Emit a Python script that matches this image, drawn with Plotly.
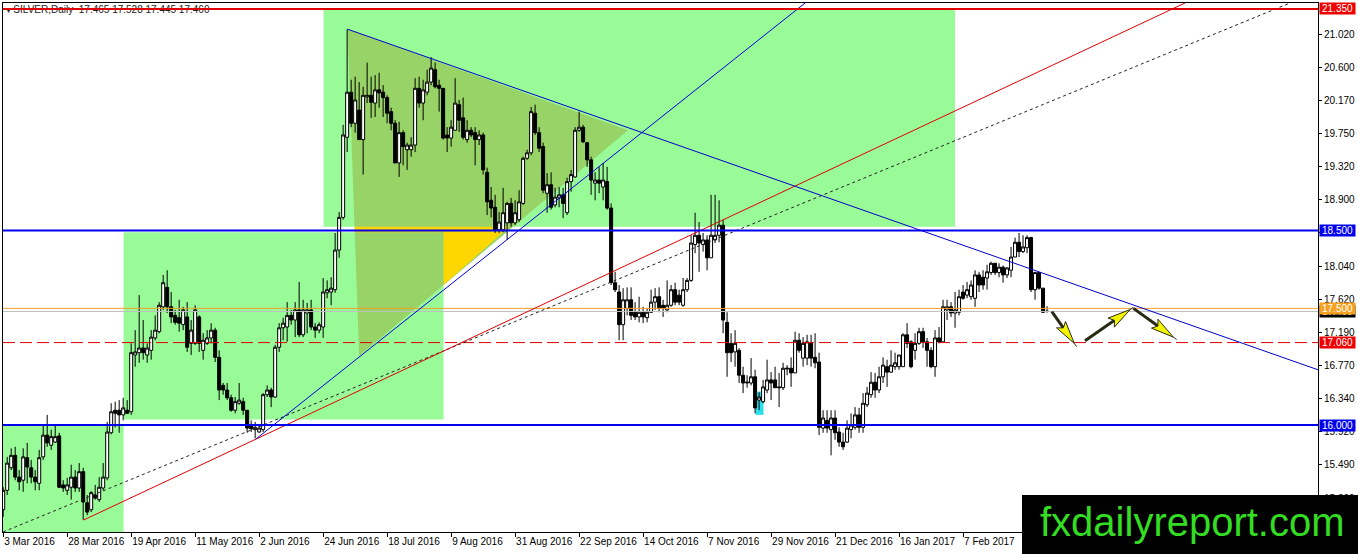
import math
import plotly.graph_objects as go

# ---------------- data ----------------
opens = [14.91,15.16,15.45,15.61,15.33,15.29,15.58,15.45,15.33,15.25,
         15.59,15.87,15.74,15.78,15.86,15.23,15.16,15.20,15.33,15.19,
         15.40,15.00,14.91,15.10,15.04,15.19,15.32,15.90,16.19,16.19,
         16.13,16.19,16.17,16.90,16.93,16.99,16.90,16.96,17.12,17.20,
         17.52,17.77,17.52,17.41,17.38,17.29,17.39,17.05,17.05,17.39,
         16.96,17.05,17.12,17.22,16.87,16.51,16.45,16.35,16.19,16.28,
         16.30,16.19,16.00,15.94,15.91,15.94,16.39,16.45,16.36,17.00,
         17.25,17.26,17.41,17.35,17.48,17.16,17.44,17.48,17.26,17.22,
         17.26,17.70,17.71,17.74,18.25,
         18.67,19.70,20.28,19.88,20.05,
         19.67,20.22,20.24,20.14,20.31,20.28,20.21,20.03,19.88,19.37,
         19.76,19.54,19.54,19.60,20.33,20.14,20.28,20.41,20.57,20.37,
         20.33,19.73,19.69,19.79,20.12,19.95,19.67,19.79,19.76,19.67,
         19.73,19.25,18.89,18.80,18.51,18.51,18.60,18.85,18.60,18.64,
         18.85,19.43,19.50,20.01,19.76,19.58,18.98,19.09,18.83,18.92,
         18.96,18.73,19.13,19.19,19.79,19.83,19.63,19.41,19.11,19.15,
         19.06,19.13,18.79,
         17.83,17.71,17.29,17.50,17.61,17.45,17.39,
         17.45,17.38,17.45,17.58,17.65,17.54,17.48,17.54,17.74,17.67,
         17.54,17.74,17.86,18.32,18.44,18.32,18.38,18.15,18.38,18.44,
         18.57,17.32,17.05,16.94,16.96,16.64,16.54,16.54,16.62,16.32,
         16.30,16.45,16.58,16.58,16.49,16.48,16.72,16.73,16.67,17.09,
         16.86,16.86,17.05,16.87,16.81,15.96,16.06,15.94,16.09,15.91,
         15.78,15.78,15.94,15.97,16.13,15.97,16.26,
         16.39,16.55,16.45,
         16.62,16.75,16.68,16.75,16.75,16.75,17.16,17.07,16.96,17.05,
         17.20,17.07,16.96,16.75,17.12,17.07,17.48,17.52,17.44,17.45,
         17.71,17.67,17.65,17.63,17.93,17.90,17.89,17.96,18.08,17.96,
         18.03,17.93,17.99,18.16,18.35,18.23,18.28,18.41,17.74,17.96,
         17.76,17.465]

highs = [15.20,15.59,15.70,15.72,15.42,15.70,15.77,15.55,15.42,15.68,
         16.00,16.13,15.94,16.00,15.90,15.29,15.32,15.49,15.42,15.51,
         15.45,15.10,15.15,15.23,15.33,15.51,16.04,16.28,16.30,16.32,
         16.35,16.32,17.05,17.22,17.67,17.35,17.05,17.22,17.41,17.58,
         17.93,17.99,17.71,17.48,17.61,17.52,17.58,17.35,17.54,17.41,
         17.18,17.22,17.31,17.25,16.96,16.54,16.54,16.39,16.36,16.54,
         16.35,16.19,16.06,16.04,16.00,16.41,16.51,16.48,17.03,17.31,
         17.38,17.58,17.48,17.58,17.84,17.61,17.57,17.61,17.31,17.32,
         17.89,17.86,17.90,18.47,18.74,
         19.86,21.09,20.44,20.48,20.41,
         20.35,20.66,20.48,20.50,20.53,20.37,20.24,20.08,19.92,19.90,
         19.79,19.63,19.70,20.46,20.48,20.44,20.57,20.73,20.66,20.44,
         20.33,19.83,19.92,20.46,20.18,20.21,19.92,19.83,19.83,19.79,
         19.76,19.31,19.06,18.96,18.74,19.05,18.87,18.92,18.89,19.02,
         19.45,19.54,20.09,20.12,19.83,19.63,19.24,19.25,19.05,19.06,
         19.05,19.18,19.28,19.83,20.03,19.86,19.64,19.45,19.25,19.32,
         19.37,19.32,18.85,
         17.97,17.80,17.76,17.77,17.77,17.58,17.65,
         17.52,17.50,17.74,17.76,17.77,17.61,17.86,17.80,17.83,17.74,
         17.89,17.89,18.44,18.73,18.61,18.47,18.44,18.96,18.96,18.89,
         18.64,17.45,17.18,17.22,16.99,16.75,16.64,16.86,16.71,16.42,
         16.58,16.84,16.68,16.75,16.67,16.80,16.77,16.87,17.20,17.18,
         17.13,17.16,17.16,17.18,16.93,16.19,16.19,16.19,16.19,15.97,
         15.90,16.06,16.15,16.23,16.22,16.41,16.49,
         16.68,16.67,16.75,
         16.87,16.84,16.96,16.93,16.90,17.18,17.31,17.09,17.18,17.25,
         17.25,17.12,17.00,17.22,17.26,17.61,17.61,17.58,17.71,17.74,
         17.80,17.84,17.86,17.99,17.97,17.99,18.06,18.10,18.08,18.08,
         18.05,18.03,18.29,18.41,18.47,18.44,18.44,18.42,17.97,17.97,
         17.76,17.528]

lows = [14.82,15.10,15.42,15.29,15.16,15.14,15.25,15.25,15.16,15.16,
        15.55,15.72,15.68,15.77,15.19,15.14,15.10,15.04,15.14,15.14,
        14.78,14.84,14.88,15.04,15.01,15.16,15.29,15.88,15.97,15.90,
        16.06,16.17,16.13,16.75,16.80,16.84,16.80,16.84,17.09,17.18,
        17.48,17.44,17.31,17.29,17.20,17.22,16.94,16.90,17.03,16.94,
        16.84,17.03,17.05,16.81,16.32,16.39,16.32,16.17,16.15,16.26,
        16.13,15.90,15.91,15.83,15.90,15.91,16.36,16.23,16.35,16.94,
        17.09,17.07,17.29,17.13,17.13,17.13,17.18,17.22,17.12,17.18,
        17.12,17.63,17.54,17.70,18.15,
        18.64,19.51,19.83,19.76,19.67,
        19.22,20.14,19.95,19.96,20.08,19.96,19.88,19.79,19.37,19.19,
        19.34,19.28,19.45,19.51,20.08,19.92,20.24,20.37,20.33,20.03,
        19.67,19.51,19.58,19.79,19.77,19.67,19.63,19.70,19.34,19.60,
        19.22,18.70,18.67,18.47,18.47,18.48,18.38,18.55,18.57,18.61,
        18.83,19.41,19.47,19.73,19.51,18.98,18.73,18.77,18.80,18.80,
        18.66,18.70,19.00,19.18,19.77,19.63,19.32,18.96,18.89,18.98,
        18.89,18.77,17.80,
        17.71,17.09,17.09,17.41,17.35,17.35,17.32,
        17.31,17.32,17.44,17.48,17.45,17.39,17.45,17.52,17.54,17.54,
        17.52,17.71,17.84,18.21,17.97,18.23,17.99,18.15,18.34,18.35,
        17.18,16.62,16.81,16.75,16.54,16.41,16.48,16.51,16.15,16.19,
        16.28,16.41,16.32,16.48,16.23,16.45,16.64,16.49,16.67,16.93,
        16.75,16.77,16.75,16.73,15.87,15.90,15.90,15.61,15.81,15.72,
        15.68,15.77,15.83,15.94,15.90,15.90,16.23,
        16.35,16.35,16.41,
        16.54,16.49,16.67,16.71,16.71,16.75,16.99,16.73,16.84,17.03,
        16.99,16.75,16.73,16.62,17.05,17.07,17.35,17.39,17.25,17.41,
        17.61,17.63,17.61,17.52,17.71,17.74,17.74,17.93,17.93,17.90,
        17.83,17.89,17.90,18.16,18.16,18.21,18.21,17.71,17.61,17.74,
        17.44,17.445]

closes = [15.16,15.51,15.61,15.33,15.27,15.59,15.46,15.33,15.27,15.58,
          15.87,15.77,15.85,15.85,15.20,15.19,15.23,15.33,15.19,15.40,
          15.01,14.88,15.13,15.06,15.20,15.33,15.91,16.17,16.15,16.13,
          16.22,16.15,16.93,16.94,16.99,16.93,16.99,17.13,17.22,17.54,
          17.83,17.52,17.39,17.32,17.31,17.48,17.00,17.22,17.48,17.05,
          17.09,17.12,17.22,16.87,16.45,16.45,16.35,16.19,16.30,16.32,
          16.19,15.96,15.95,15.97,15.96,16.39,16.45,16.36,17.00,17.25,
          17.31,17.41,17.35,17.48,17.16,17.48,17.48,17.26,17.22,17.29,
          17.71,17.74,17.76,18.25,18.67,
          19.73,20.28,19.88,20.18,19.67,
          20.24,20.24,20.15,20.31,20.27,20.21,20.01,19.88,19.37,19.76,
          19.58,19.60,19.60,20.33,20.14,20.31,20.41,20.59,20.35,20.33,
          19.69,19.69,19.83,20.14,19.92,19.70,19.79,19.73,19.67,19.73,
          19.28,18.87,18.79,18.51,18.61,18.73,18.85,18.60,18.73,18.87,
          19.43,19.50,20.03,19.76,19.56,19.02,19.09,18.80,18.93,18.96,
          18.85,19.13,19.22,19.79,19.83,19.64,19.41,19.15,19.15,19.11,
          19.15,18.79,17.83,
          17.74,17.29,17.61,17.61,17.41,17.39,17.45,
          17.39,17.45,17.58,17.65,17.50,17.50,17.54,17.74,17.58,17.58,
          17.74,17.86,18.34,18.44,18.34,18.38,18.15,18.44,18.44,18.57,
          17.35,16.93,16.93,17.05,16.64,16.54,16.55,16.62,16.22,16.36,
          16.49,16.58,16.54,16.48,16.48,16.73,16.73,16.67,17.09,16.96,
          17.05,17.07,16.86,16.80,15.97,16.09,15.96,16.09,15.90,15.78,
          15.72,15.96,16.00,16.13,15.97,16.28,16.41,
          16.55,16.45,16.62,
          16.77,16.68,16.77,16.80,16.90,17.16,17.05,16.75,17.05,17.20,
          17.07,16.96,16.75,17.12,17.07,17.52,17.52,17.44,17.48,17.65,
          17.63,17.74,17.80,17.93,17.80,17.80,17.97,18.08,17.96,18.03,
          17.93,18.02,18.16,18.35,18.23,18.29,18.41,17.74,17.96,17.76,
          17.45,17.46]

date_tick_bars = [0, 16, 32, 48, 64, 80, 96, 112, 128, 144, 160, 176, 192, 208, 224, 240]
date_tick_labels = ["3 Mar 2016", "28 Mar 2016", "19 Apr 2016", "11 May 2016", "2 Jun 2016",
                    "24 Jun 2016", "18 Jul 2016", "9 Aug 2016", "31 Aug 2016", "22 Sep 2016",
                    "14 Oct 2016", "7 Nov 2016", "29 Nov 2016", "21 Dec 2016", "16 Jan 2017",
                    "7 Feb 2017"]
price_ticks = [15.06, 15.49, 15.92, 16.34, 16.77, 17.19, 17.62, 18.04, 18.47,
               18.90, 19.32, 19.75, 20.17, 20.60, 21.02]

title_text = "\u25be SILVER,Daily  17.465 17.528 17.445 17.460"

# horizontal levels
level_top = 21.35
level_blue = [18.50, 16.00]
level_orange = 17.50
level_bid = 17.46
level_dash = 17.06

# green zones: (bar0, bar1, price0, price1)
zones = [(-1.0, 30.1, 14.55, 16.00),
         (30.1, 110.1, 16.07, 18.48),
         (80.1, 238.0, 18.55, 21.35)]
# triangle (bar, price) vertices
tri_pts = [(86.1, 21.09), (156.25, 19.79), (89.0, 16.887)]
tri_yellow = [(87.9, 18.55), (126.5, 18.55), (110.1, 17.80), (110.1, 18.48), (87.9, 18.48)]
# trend lines (bar, price) -> (bar, price)
tl_down = ((86.1, 21.09), (328.75, 16.71))
tl_up_blue = ((63.1, 15.816), (200.5, 21.427))
tl_up_red = ((20.1, 14.778), (295.5, 21.427))
tl_dotted = ((0.0, 14.625), (321.75, 21.427))
cyan_box = (188.1, 190.1, 16.13, 16.43)
# projection arrows: tail -> tip (bar, price)
arrows = [((262.2, 17.457), (268.4, 17.007)),
          ((270.5, 17.084), (282.6, 17.514)),
          ((282.6, 17.50), (293.4, 17.10))]

# ---------------- layout geometry ----------------
X_RANGE = [-0.05, 328.75]
Y_RANGE = [14.624, 21.427]
W, H = 1358, 554
M = dict(l=3, r=40, t=3, b=22)
PW = W - M["l"] - M["r"]
PH = H - M["t"] - M["b"]
sx = PW / (X_RANGE[1] - X_RANGE[0])
sy = PH / (Y_RANGE[1] - Y_RANGE[0])

FONT = "Liberation Sans"

fig = go.Figure()

fig.add_trace(go.Scatter(
    x=[0.6], y=[21.335], mode="text", text=[title_text], textposition="middle right",
    textfont=dict(family=FONT, size=10, color="#222222"),
    hoverinfo="skip", showlegend=False))

bars = list(range(len(closes)))
fig.add_trace(go.Candlestick(
    x=bars, open=opens, high=highs, low=lows, close=closes,
    increasing=dict(line=dict(color="black", width=1), fillcolor="white"),
    decreasing=dict(line=dict(color="black", width=1), fillcolor="black"),
    whiskerwidth=0, showlegend=False, hoverinfo="skip"))

shapes = []
for (a, b, c, d) in zones:
    shapes.append(dict(type="rect", xref="x", yref="y", x0=a, x1=b, y0=c, y1=d,
                       fillcolor="rgb(152,251,152)", line=dict(width=0), layer="below"))


def poly(pts):
    return "M " + " L ".join(f"{p[0]},{p[1]}" for p in pts) + " Z"


shapes.append(dict(type="path", xref="x", yref="y", path=poly(tri_pts),
                   fillcolor="rgb(152,211,103)", line=dict(width=0), layer="below"))
shapes.append(dict(type="path", xref="x", yref="y", path=poly(tri_yellow),
                   fillcolor="rgb(255,215,0)", line=dict(width=0), layer="below"))
shapes.append(dict(type="rect", xref="x", yref="y", x0=cyan_box[0], x1=cyan_box[1],
                   y0=cyan_box[2], y1=cyan_box[3], fillcolor="rgb(40,225,235)",
                   line=dict(width=0), layer="below"))


def hline(y, color, width, dash="solid"):
    return dict(type="line", xref="paper", yref="y", x0=0, x1=1, y0=y, y1=y,
                line=dict(color=color, width=width, dash=dash), layer="above")


def seg(p, q, color, width, dash="solid"):
    return dict(type="line", xref="x", yref="y", x0=p[0], y0=p[1], x1=q[0], y1=q[1],
                line=dict(color=color, width=width, dash=dash), layer="above")


shapes.append(hline(level_bid, "#c0c0c0", 1))
shapes.append(hline(level_orange, "#f0a028", 1))
shapes.append(hline(level_dash, "#e00000", 1, "12px,5px"))
shapes.append(seg(*tl_dotted, "#222222", 1, "dot"))
shapes.append(seg(*tl_up_red, "#e00000", 1))
shapes.append(seg(*tl_up_blue, "#0000dd", 1))
shapes.append(seg(*tl_down, "#0000cc", 1))
for lv in level_blue:
    shapes.append(hline(lv, "#0000ee", 2))
shapes.append(hline(level_top, "#e00000", 2))

# arrows
for tail, tip in arrows:
    tx, ty = tail[0] * sx, tail[1] * sy
    hx, hy = tip[0] * sx, tip[1] * sy
    dx, dy = hx - tx, hy - ty
    L = math.hypot(dx, dy)
    ux, uy = dx / L, dy / L
    nx, ny = -uy, ux
    pt = (hx - ux * 4, hy - uy * 4)
    base = (pt[0] - ux * 23, pt[1] - uy * 23)
    w = 5.5
    head = [(pt[0], pt[1]), (base[0] + nx * w, base[1] + ny * w), (base[0] + ux * 4, base[1] + uy * 4),
            (base[0] - nx * w, base[1] - ny * w)]
    head_d = [(p[0] / sx, p[1] / sy) for p in head]
    base_d = ((base[0] + ux * 4) / sx, (base[1] + uy * 4) / sy)
    shapes.append(seg(tail, base_d, "#2a2a14", 3))
    shapes.append(seg((pt[0] / sx, pt[1] / sy), tip, "#2a2a14", 1))
    shapes.append(dict(type="path", xref="x", yref="y", path=poly(head_d),
                       fillcolor="#f5f500", line=dict(color="#2a2a14", width=1), layer="above"))

# watermark background
px0, px1 = (1022 - M["l"]) / PW, (1358 - M["l"]) / PW
py0, py1 = (PH + M["t"] - 554) / PH, (PH + M["t"] - 495) / PH
shapes.append(dict(type="rect", xref="paper", yref="paper", x0=px0, x1=px1, y0=py0, y1=py1,
                   fillcolor="black", line=dict(width=0), layer="above"))

annotations = []


def price_box(y, bg, txt):
    return dict(xref="paper", yref="y", x=1.0, y=y, xanchor="left", yanchor="middle",
                xshift=1, text=txt, showarrow=False, bgcolor=bg, width=35, height=11,
                borderpad=0, font=dict(family=FONT, size=10, color="white"), align="center")


annotations.append(price_box(level_top, "#ee0000", f"{level_top:.3f}"))
annotations.append(price_box(level_blue[0], "#0000ee", f"{level_blue[0]:.3f}"))
annotations.append(price_box(level_bid, "black", f"{level_bid:.3f}"))
annotations.append(price_box(level_orange, "#f5a020", f"{level_orange:.3f}"))
annotations.append(price_box(level_dash, "#ee0000", f"{level_dash:.3f}"))
annotations.append(price_box(level_blue[1], "#0000ee", f"{level_blue[1]:.3f}"))

annotations.append(dict(xref="paper", yref="paper", x=(px0 + px1) / 2, y=(py0 + py1) / 2 + 0.004,
                        xanchor="center", yanchor="middle", text="fxdailyreport.com", xshift=2,
                        showarrow=False, font=dict(family=FONT, size=40, color="#33dd22")))

fig.update_layout(
    width=W, height=H, margin=M, paper_bgcolor="white", plot_bgcolor="white",
    showlegend=False, shapes=shapes, annotations=annotations,
    boxgap=0.25, boxgroupgap=0,
    font=dict(family=FONT, size=10, color="black"),
    xaxis=dict(range=X_RANGE, showgrid=False, zeroline=False, showline=True, linecolor="black",
               linewidth=1, mirror=True, ticks="outside", ticklen=4, tickcolor="black",
               tickvals=date_tick_bars, ticktext=date_tick_labels, tickangle=0, automargin=False,
               ticklabelposition="outside right", tickfont=dict(family=FONT, size=10, color="black"),
               rangeslider=dict(visible=False), fixedrange=True),
    yaxis=dict(range=Y_RANGE, side="right", showgrid=False, zeroline=False, showline=True,
               linecolor="black", linewidth=1, mirror=True, ticks="outside", ticklen=3,
               tickcolor="black", tickvals=price_ticks, automargin=False,
               ticktext=[f"{v:.3f}" for v in price_ticks],
               tickfont=dict(family=FONT, size=10, color="black"), fixedrange=True),
)

fig.write_html("out.html", config={"displayModeBar": False},
               post_script="document.body.style.margin='0px';document.body.style.overflow='hidden';")
